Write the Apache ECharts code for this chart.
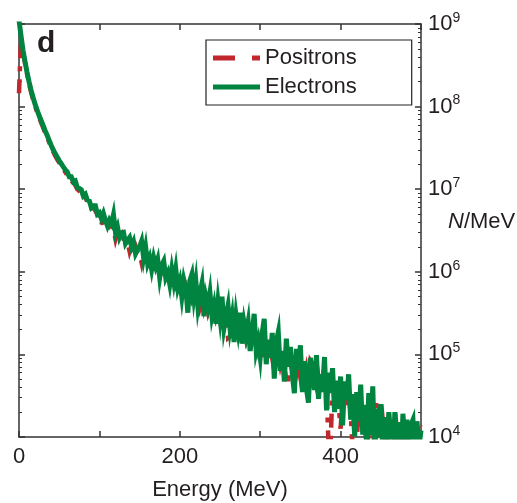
<!DOCTYPE html>
<html><head><meta charset="utf-8">
<script src="https://cdn.jsdelivr.net/npm/echarts@6/dist/echarts.min.js"></script>
<style>html,body{margin:0;padding:0;background:#fff}#c{width:517px;height:503px}</style>
</head><body><div id="c"></div>
<script>
// Energy bins: 0, 2.5, 5, ... 500 MeV
const binWidth = 2.5;
const seriesNames = ['Positrons', 'Electrons'];
const xTickLabels = ['0', '200', '400'];
const yAxisName = 'N/MeV';
const xAxisName = 'Energy (MeV)';

const electrons = [
1.12e9,7.2e8,4.8e8,3.5e8,2.6e8,2.0e8,1.58e8,1.29e8,1.07e8,9.1e7,
7.8e7,6.8e7,5.9e7,5.1e7,4.5e7,3.9e7,3.4e7,3.0e7,2.7e7,2.45e7,
2.22e7,2.04e7,1.87e7,1.72e7,1.62e7,1.41e7,1.41e7,1.23e7,1.26e7,1.05e7,
1.02e7,9.8e6,8.3e6,8.7e6,7.4e6,7.2e6,6.0e6,6.3e6,6.3e6,5.0e6,
5.2e6,4.4e6,5.1e6,4.2e6,3.6e6,4.2e6,3.8e6,4.9e6,3.0e6,3.5e6,
2.6e6,2.95e6,3.0e6,2.2e6,2.4e6,2.6e6,2.0e6,2.3e6,1.66e6,1.86e6,
2.0e6,2.35e6,1.48e6,2.0e6,1.26e6,1.48e6,1.07e6,1.48e6,1.17e6,1.41e6,
8.5e5,1.2e6,1.35e6,8.5e5,9.7e5,7.1e5,1.07e6,7.5e5,1.08e6,6.4e5,
7.8e5,5.0e5,8.0e5,6.3e5,3.2e5,7.8e5,9.3e5,5.0e5,7.6e5,3.8e5,
5.5e5,7.2e5,2.9e5,5.0e5,3.9e5,5.6e5,2.95e5,3.9e5,2.35e5,4.4e5,
2.75e5,5.0e5,2.1e5,2.9e5,3.9e5,2.05e5,2.9e5,1.41e5,2.95e5,1.95e5,
3.2e5,1.35e5,2.4e5,1.74e5,2.45e5,1.1e5,1.82e5,3.1e5,1.12e5,1.45e5,
9.3e4,1.82e5,2.7e5,7.6e4,1.51e5,9.1e4,1.82e5,5.1e4,1.41e5,1.86e5,
6.3e4,1.1e5,4.7e4,1.55e5,7.1e4,1.23e5,5.6e4,3.4e4,1.17e5,6.5e4,
1.29e5,3.5e4,8.3e4,3.9e4,2.6e4,9.1e4,6.0e4,3.7e4,9.8e4,2.9e4,
5.75e4,3.5e4,9.3e4,2.1e4,6.0e4,3.4e4,6.8e4,2.0e4,4.8e4,2.2e4,
5.4e4,1.38e4,4.7e4,2.8e4,5.75e4,1.62e4,3.3e4,1.02e4,3.5e4,1.55e4,
4.3e4,1.07e4,2.45e4,7.1e3,3.4e4,1.05e4,4.1e4,5.4e3,2.2e4,1.0e4,
2.5e4,5.8e3,1.74e4,6.5e3,2.0e4,9.8e3,5.2e3,2.0e4,7.2e3,1.51e4,
3.8e3,1.91e4,8.5e3,1.62e4,4.9e3,1.41e4,1.62e4,5.0e3,1.55e4,7.6e3,
1.2e4
];

const positrons = [
1.45e8,6.9e8,4.6e8,3.35e8,2.5e8,1.9e8,1.5e8,1.22e8,1.02e8,8.6e7,
7.4e7,6.4e7,5.6e7,4.8e7,4.25e7,3.7e7,3.2e7,2.85e7,2.55e7,2.3e7,
2.1e7,1.92e7,1.76e7,1.62e7,1.48e7,1.41e7,1.26e7,1.2e7,1.12e7,1.0e7,
9.5e6,9.1e6,7.9e6,7.9e6,7.1e6,6.8e6,5.9e6,5.9e6,5.5e6,4.9e6,
4.8e6,3.7e6,4.6e6,4.0e6,3.9e6,3.55e6,3.8e6,3.3e6,2.5e6,3.1e6,
2.8e6,2.95e6,2.5e6,2.45e6,2.3e6,1.78e6,2.15e6,1.9e6,2.05e6,1.74e6,
1.66e6,1.29e6,1.7e6,1.45e6,1.38e6,1.26e6,1.32e6,1.15e6,1.29e6,1.05e6,
1.0e6,1.15e6,8.9e5,9.5e5,8.3e5,9.1e5,7.6e5,8.5e5,6.9e5,7.9e5,
6.3e5,7.2e5,5.6e5,6.5e5,5.0e5,6.2e5,4.8e5,5.75e5,4.2e5,5.25e5,
3.8e5,4.8e5,3.55e5,4.4e5,3.3e5,4.1e5,3.2e5,3.7e5,2.8e5,3.4e5,
2.6e5,3.3e5,2.4e5,2.9e5,1.58e5,1.66e5,2.5e5,2.0e5,2.4e5,1.78e5,
2.2e5,1.66e5,2.05e5,1.51e5,1.86e5,1.38e5,1.74e5,1.26e5,1.58e5,1.15e5,
1.45e5,8.5e4,8.9e4,1.26e5,1.0e5,1.23e5,8.9e4,1.12e5,8.3e4,1.07e5,
7.6e4,9.8e4,7.1e4,5.0e4,5.0e4,8.5e4,6.3e4,7.9e4,5.75e4,7.4e4,
5.25e4,6.9e4,4.8e4,6.6e4,4.6e4,8.3e4,7.6e4,5.0e4,4.0e4,5.25e4,
3.55e4,5.0e4,3.3e4,4.0e4,7.9e3,7.9e3,4.2e4,2.8e4,3.8e4,2.5e4,
1.26e4,2.8e4,3.3e4,2.2e4,3.2e4,2.0e4,7.1e3,7.1e3,7.9e3,2.6e4,
1.78e4,2.4e4,1.41e4,2.0e4,1.12e4,1.91e4,1.26e4,1.78e4,2.8e4,2.6e4,
1.12e4,1.58e4,8.9e3,1.41e4,6.3e3,6.3e3,1.32e4,8.9e3,1.26e4,7.9e3,
1.26e4,7.9e3,1.12e4,7.1e3,1.05e4,7.6e3,9.5e3,7.1e3,7.9e3,1.41e4,
1.32e4
];

const FONT = "'Liberation Sans', Arial, Helvetica, sans-serif";
const TXT = '#231f20';
const RED = '#c1272d';
const GREEN = '#00843f';
const AX = {color: '#333', width: 1.5};

const minorTicks = [];
for (let d = 4; d < 9; d++) for (let k = 2; k <= 9; k++) minorTicks.push(k * Math.pow(10, d));
const toPairs = arr => arr.map((v, i) => [i * binWidth, v]);

const gridRect = {left: 19, right: 96, top: 24, bottom: 66, containLabel: false, outerBoundsMode: 'none'};
const chart = echarts.init(document.getElementById('c'), null, {renderer: 'canvas'});
chart.setOption({
  animation: false,
  backgroundColor: '#fff',
  grid: [Object.assign({}, gridRect), Object.assign({}, gridRect)],
  title: {text: 'd', left: 37, top: 29, padding: 0,
    textStyle: {fontSize: 30, fontWeight: 'bold', color: TXT, fontFamily: FONT}},
  legend: {
    orient: 'vertical', left: 206, top: 40, padding: [7, 55, 7, 7], itemGap: 7,
    itemWidth: 47, itemHeight: 5, borderColor: '#222', borderWidth: 1.2,
    textStyle: {fontSize: 22, color: TXT, fontFamily: FONT, lineHeight: 22},
    data: [
      {name: seriesNames[0], icon: 'path://M0,0H22V5H0ZM39,0H47V5H39Z'},
      {name: seriesNames[1], icon: 'path://M0,0H47V5H0Z'}
    ]
  },
  xAxis: [
    {type: 'value', gridIndex: 0, position: 'bottom', min: 0, max: 500, interval: 100,
      axisLine: {onZero: false, lineStyle: AX},
      axisTick: {inside: true, length: 6, lineStyle: AX},
      axisLabel: {margin: 9, fontSize: 22, color: TXT, fontFamily: FONT,
        formatter: v => xTickLabels.includes(String(v)) ? String(v) : ''},
      splitLine: {show: false},
      name: xAxisName, nameLocation: 'middle', nameGap: 42, nameMoveOverlap: false,
      nameTextStyle: {fontSize: 22, color: TXT, fontFamily: FONT}},
    {type: 'value', gridIndex: 0, position: 'top', min: 0, max: 500, interval: 100,
      axisLine: {onZero: false, lineStyle: AX},
      axisTick: {inside: true, length: 6, lineStyle: AX},
      axisLabel: {show: false}, splitLine: {show: false}},
    {type: 'value', gridIndex: 1, min: 0, max: 500, show: false}
  ],
  yAxis: [
    {type: 'log', logBase: 10, gridIndex: 0, position: 'right', min: 1e4, max: 1e9,
      axisLine: {onZero: false, lineStyle: AX},
      axisTick: {inside: true, length: 6, lineStyle: AX},
      splitLine: {show: false},
      axisLabel: {margin: 7, color: TXT, fontFamily: FONT,
        formatter: v => '{b|10}{s|' + Math.round(Math.log10(v)) + '}',
        rich: {
          b: {fontSize: 22, lineHeight: 26, fontFamily: FONT, color: TXT},
          s: {fontSize: 14, lineHeight: 14, verticalAlign: 'top', fontFamily: FONT, color: TXT}
        }},
      name: '{i|N}/MeV', nameLocation: 'middle', nameRotate: 0, nameGap: 27, nameMoveOverlap: false,
      nameTextStyle: {align: 'left', fontSize: 22, color: TXT, fontFamily: FONT, padding: [0, 0, 17, 0],
        rich: {i: {fontStyle: 'italic', fontSize: 22, color: TXT, fontFamily: FONT}}}},
    {type: 'log', logBase: 10, gridIndex: 0, position: 'left', min: 1e4, max: 1e9,
      axisLine: {onZero: false, lineStyle: AX},
      axisTick: {inside: true, length: 6, lineStyle: AX},
      axisLabel: {show: false}, splitLine: {show: false}},
    {type: 'log', logBase: 10, gridIndex: 1, position: 'right', min: 1e4, max: 1e9,
      axisLine: {show: false, onZero: false},
      axisTick: {inside: true, length: 3, lineStyle: {color: '#333', width: 1}, customValues: minorTicks},
      axisLabel: {show: false}, splitLine: {show: false}},
    {type: 'log', logBase: 10, gridIndex: 1, position: 'left', min: 1e4, max: 1e9,
      axisLine: {show: false, onZero: false},
      axisTick: {inside: true, length: 3, lineStyle: {color: '#333', width: 1}, customValues: minorTicks},
      axisLabel: {show: false}, splitLine: {show: false}}
  ],
  series: [
    {name: seriesNames[0], type: 'line', xAxisIndex: 0, yAxisIndex: 0, data: toPairs(positrons),
      symbol: 'none', showSymbol: false, clip: true, z: 2,
      itemStyle: {color: RED},
      lineStyle: {color: RED, width: 4.5, type: [14, 8, 5, 8], join: 'miter'}},
    {name: seriesNames[1], type: 'line', xAxisIndex: 0, yAxisIndex: 0, data: toPairs(electrons),
      symbol: 'none', showSymbol: false, clip: true, z: 3,
      itemStyle: {color: GREEN},
      lineStyle: {color: GREEN, width: 5, join: 'miter'}}
  ]
});
</script></body></html>
